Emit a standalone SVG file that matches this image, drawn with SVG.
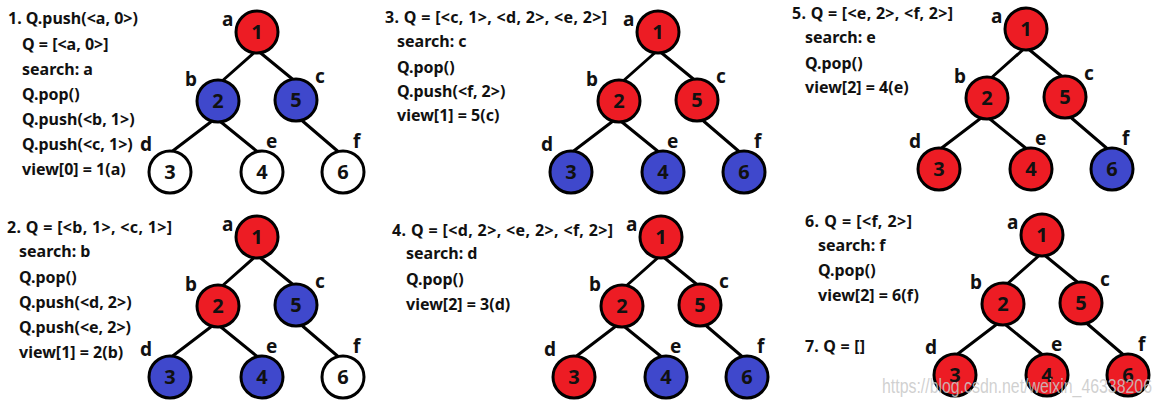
<svg xmlns="http://www.w3.org/2000/svg" width="1162" height="407" viewBox="0 0 1162 407">
<style>
.bg{fill:#ffffff}
.txt{font-family:"Noto Sans","Liberation Sans",sans-serif;font-weight:bold;font-size:16px;fill:#111111}
.lbl{font-family:"Noto Sans","Liberation Sans",sans-serif;font-weight:bold;font-size:19px;fill:#111111}
.node circle{stroke:#000000;stroke-width:3}
.node text{font-family:"Noto Sans","Liberation Sans",sans-serif;font-weight:bold;font-size:20px;fill:#111111;text-anchor:middle}
.red circle{fill:#ED1C24}
.blue circle{fill:#3F48CC}
.white circle{fill:#ffffff}
.edge{stroke:#000000;stroke-width:3;stroke-linecap:round;fill:none}
.wm{font-family:"Liberation Sans",Arial,sans-serif;font-size:20px;fill:#c8c8c8;fill-opacity:0.85}
</style>
<defs>
<g id="edges">
<line class="edge" x1="257" y1="50" x2="221" y2="82"/>
<line class="edge" x1="257" y1="50" x2="296" y2="82"/>
<line class="edge" x1="216" y1="118" x2="170" y2="153"/>
<line class="edge" x1="216" y1="118" x2="259" y2="153"/>
<line class="edge" x1="299" y1="118" x2="341" y2="154"/>
</g>
<g id="labels">
<text class="lbl" x="222" y="26">a</text>
<text class="lbl" x="185" y="86">b</text>
<text class="lbl" x="315" y="83">c</text>
<text class="lbl" x="140" y="151">d</text>
<text class="lbl" x="266" y="148">e</text>
<text class="lbl" x="353" y="148">f</text>
</g>
</defs>
<rect class="bg" x="0" y="0" width="1162" height="407"/>

<g id="connectors">
<use href="#edges" transform="translate(0,0)"/>
<use href="#edges" transform="translate(0,205)"/>
<use href="#edges" transform="translate(401,0)"/>
<use href="#edges" transform="translate(404,205)"/>
<use href="#edges" transform="translate(769,-3)"/>
<use href="#edges" transform="translate(785,203)"/>
</g>

<!-- Panel 1 -->
<g id="panel1">
<text class="txt" x="8" y="24">1. Q.push(&lt;a, 0&gt;)</text>
<text class="txt" x="22" y="50">Q = [&lt;a, 0&gt;]</text>
<text class="txt" x="22" y="75">search: a</text>
<text class="txt" x="22" y="100">Q.pop()</text>
<text class="txt" x="22" y="125">Q.push(&lt;b, 1&gt;)</text>
<text class="txt" x="22" y="150">Q.push(&lt;c, 1&gt;)</text>
<text class="txt" x="22" y="175">view[0] = 1(a)</text>
<use href="#labels"/>
<g id="p1-a" class="node red" transform="translate(257,32)"><circle r="21"/><text y="7">1</text></g>
<g id="p1-b" class="node blue" transform="translate(218,101)"><circle r="21"/><text y="7">2</text></g>
<g id="p1-c" class="node blue" transform="translate(296,100)"><circle r="21"/><text y="7">5</text></g>
<g id="p1-d" class="node white" transform="translate(170,172)"><circle r="21"/><text y="7">3</text></g>
<g id="p1-e" class="node white" transform="translate(262,172)"><circle r="21"/><text y="7">4</text></g>
<g id="p1-f" class="node white" transform="translate(343,172)"><circle r="21"/><text y="7">6</text></g>
</g>

<!-- Panel 2 -->
<g id="panel2">
<text class="txt" x="7" y="233" textLength="165">2. Q = [&lt;b, 1&gt;, &lt;c, 1&gt;]</text>
<text class="txt" x="19" y="257">search: b</text>
<text class="txt" x="19" y="283">Q.pop()</text>
<text class="txt" x="19" y="308">Q.push(&lt;d, 2&gt;)</text>
<text class="txt" x="19" y="333">Q.push(&lt;e, 2&gt;)</text>
<text class="txt" x="19" y="358">view[1] = 2(b)</text>
<use href="#labels" transform="translate(0,205)"/>
<g transform="translate(0,205)">
<g id="p2-a" class="node red" transform="translate(257,32)"><circle r="21"/><text y="7">1</text></g>
<g id="p2-b" class="node red" transform="translate(218,101)"><circle r="21"/><text y="7">2</text></g>
<g id="p2-c" class="node blue" transform="translate(296,100)"><circle r="21"/><text y="7">5</text></g>
<g id="p2-d" class="node blue" transform="translate(170,172)"><circle r="21"/><text y="7">3</text></g>
<g id="p2-e" class="node blue" transform="translate(262,172)"><circle r="21"/><text y="7">4</text></g>
<g id="p2-f" class="node white" transform="translate(343,172)"><circle r="21"/><text y="7">6</text></g>
</g>
</g>

<!-- Panel 3 -->
<g id="panel3">
<text class="txt" x="385" y="23" textLength="222">3. Q = [&lt;c, 1&gt;, &lt;d, 2&gt;, &lt;e, 2&gt;]</text>
<text class="txt" x="397" y="47">search: c</text>
<text class="txt" x="397" y="73">Q.pop()</text>
<text class="txt" x="397" y="97">Q.push(&lt;f, 2&gt;)</text>
<text class="txt" x="397" y="121">view[1] = 5(c)</text>
<use href="#labels" transform="translate(401,0)"/>
<g transform="translate(401,0)">
<g id="p3-a" class="node red" transform="translate(257,32)"><circle r="21"/><text y="7">1</text></g>
<g id="p3-b" class="node red" transform="translate(218,101)"><circle r="21"/><text y="7">2</text></g>
<g id="p3-c" class="node red" transform="translate(296,100)"><circle r="21"/><text y="7">5</text></g>
<g id="p3-d" class="node blue" transform="translate(170,172)"><circle r="21"/><text y="7">3</text></g>
<g id="p3-e" class="node blue" transform="translate(262,172)"><circle r="21"/><text y="7">4</text></g>
<g id="p3-f" class="node blue" transform="translate(343,172)"><circle r="21"/><text y="7">6</text></g>
</g>
</g>

<!-- Panel 4 -->
<g id="panel4">
<text class="txt" x="392" y="236" textLength="221">4. Q = [&lt;d, 2&gt;, &lt;e, 2&gt;, &lt;f, 2&gt;]</text>
<text class="txt" x="406" y="259">search: d</text>
<text class="txt" x="406" y="285">Q.pop()</text>
<text class="txt" x="406" y="310">view[2] = 3(d)</text>
<use href="#labels" transform="translate(404,205)"/>
<g transform="translate(404,205)">
<g id="p4-a" class="node red" transform="translate(257,32)"><circle r="21"/><text y="7">1</text></g>
<g id="p4-b" class="node red" transform="translate(218,101)"><circle r="21"/><text y="7">2</text></g>
<g id="p4-c" class="node red" transform="translate(296,100)"><circle r="21"/><text y="7">5</text></g>
<g id="p4-d" class="node red" transform="translate(170,172)"><circle r="21"/><text y="7">3</text></g>
<g id="p4-e" class="node blue" transform="translate(262,172)"><circle r="21"/><text y="7">4</text></g>
<g id="p4-f" class="node blue" transform="translate(343,172)"><circle r="21"/><text y="7">6</text></g>
</g>
</g>

<!-- Panel 5 -->
<g id="panel5">
<text class="txt" x="792" y="19" textLength="161">5. Q = [&lt;e, 2&gt;, &lt;f, 2&gt;]</text>
<text class="txt" x="805" y="43">search: e</text>
<text class="txt" x="805" y="69">Q.pop()</text>
<text class="txt" x="805" y="93">view[2] = 4(e)</text>
<use href="#labels" transform="translate(769,-3)"/>
<g transform="translate(769,-3)">
<g id="p5-a" class="node red" transform="translate(257,32)"><circle r="21"/><text y="7">1</text></g>
<g id="p5-b" class="node red" transform="translate(218,101)"><circle r="21"/><text y="7">2</text></g>
<g id="p5-c" class="node red" transform="translate(296,100)"><circle r="21"/><text y="7">5</text></g>
<g id="p5-d" class="node red" transform="translate(170,172)"><circle r="21"/><text y="7">3</text></g>
<g id="p5-e" class="node red" transform="translate(262,172)"><circle r="21"/><text y="7">4</text></g>
<g id="p5-f" class="node blue" transform="translate(343,172)"><circle r="21"/><text y="7">6</text></g>
</g>
</g>

<!-- Panel 6 -->
<g id="panel6">
<text class="txt" x="805" y="227" textLength="107">6. Q = [&lt;f, 2&gt;]</text>
<text class="txt" x="818" y="251">search: f</text>
<text class="txt" x="818" y="276">Q.pop()</text>
<text class="txt" x="818" y="301">view[2] = 6(f)</text>
<text class="txt" x="805" y="352" textLength="60">7. Q = []</text>
<use href="#labels" transform="translate(785,203)"/>
<g transform="translate(785,203)">
<g id="p6-a" class="node red" transform="translate(257,32)"><circle r="21"/><text y="7">1</text></g>
<g id="p6-b" class="node red" transform="translate(218,101)"><circle r="21"/><text y="7">2</text></g>
<g id="p6-c" class="node red" transform="translate(296,100)"><circle r="21"/><text y="7">5</text></g>
<g id="p6-d" class="node red" transform="translate(170,172)"><circle r="21"/><text y="7">3</text></g>
<g id="p6-e" class="node red" transform="translate(262,172)"><circle r="21"/><text y="7">4</text></g>
<g id="p6-f" class="node red" transform="translate(343,172)"><circle r="21"/><text y="7">6</text></g>
</g>
</g>

<text class="wm" x="882" y="393" textLength="270" lengthAdjust="spacingAndGlyphs">https://blog.csdn.net/weixin_46338206</text>
</svg>
